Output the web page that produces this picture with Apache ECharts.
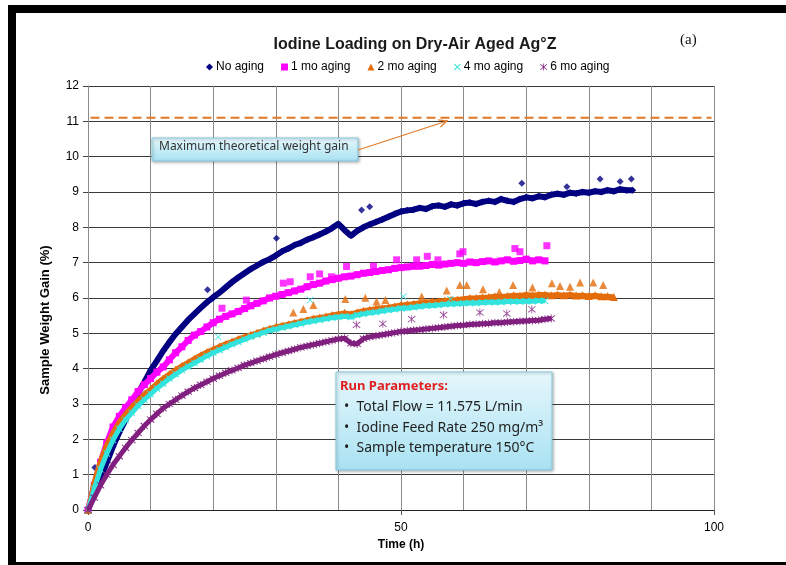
<!DOCTYPE html>
<html><head><meta charset="utf-8">
<script src="https://cdn.jsdelivr.net/npm/echarts@6/dist/echarts.min.js"></script>
<style>html,body{margin:0;padding:0;background:#fff;}#c{width:786px;height:565px;}</style>
</head><body><div id="c"></div>
<script>
// ---- Data (time in hours, weight gain in %) ----
const seriesNames = ['No aging', '1 mo aging', '2 mo aging', '4 mo aging', '6 mo aging'];
const xTickLabels = [0, 50, 100];
const yTickLabels = [0,1,2,3,4,5,6,7,8,9,10,11,12];
const maxTheoretical = 11.1;

const noAging = [0,0.45,0.9,1.35,1.8,2.2,2.55,2.95,3.3,3.62,3.95,4.22,4.5,4.75,4.98,5.18,5.38,5.55,5.72,5.88,6.02,6.15,6.3,6.45,6.58,6.7,6.82,6.92,7.02,7.1,7.2,7.32,7.4,7.5,7.56,7.65,7.72,7.8,7.88,7.98,8.1,7.92,7.76,7.9,8.0,8.08,8.15,8.22,8.3,8.38,8.45,8.48,8.5,8.55,8.52,8.6,8.62,8.58,8.65,8.62,8.68,8.7,8.66,8.72,8.75,8.72,8.8,8.75,8.72,8.8,8.85,8.82,8.88,8.85,8.92,8.95,8.92,8.98,8.96,9.0,8.98,9.02,9.0,9.05,9.02,9.08,9.05,9.05];
const noAgingOutliers = [[1.1,1.2],[19.1,6.23],[30.1,7.69],[43.7,8.49],[45,8.58],[69.3,9.25],[76.5,9.15],[81.8,9.37],[85,9.3],[86.8,9.37]];

const mo1 = [0,0.7,1.35,1.9,2.35,2.65,2.9,3.12,3.35,3.55,3.72,3.9,4.05,4.25,4.45,4.62,4.8,4.95,5.05,5.18,5.3,5.4,5.48,5.55,5.62,5.7,5.78,5.85,5.92,6.0,6.05,6.1,6.15,6.2,6.25,6.32,6.38,6.42,6.48,6.52,6.56,6.6,6.62,6.66,6.7,6.72,6.75,6.78,6.8,6.84,6.86,6.88,6.9,6.9,6.92,6.95,6.93,6.96,6.98,7.0,6.98,7.02,7.0,7.03,7.05,7.02,7.05,7.08,7.04,7.06,7.1,7.05,7.08,7.05];
const mo1Outliers = [[21.4,5.71],[25.3,5.94],[31.2,6.42],[32.3,6.46],[35.5,6.6],[37,6.68],[38.9,6.6],[41.3,6.89],[45.6,6.9],[49.3,7.08],[52.5,7.08],[54.2,7.18],[55.9,7.08],[59.4,7.25],[59.9,7.31],[68.2,7.4],[69,7.31],[73.3,7.48]];

const mo2 = [0,0.8,1.4,1.85,2.2,2.5,2.72,2.92,3.1,3.28,3.42,3.58,3.72,3.85,3.97,4.08,4.18,4.28,4.38,4.47,4.55,4.63,4.7,4.77,4.84,4.9,4.96,5.02,5.08,5.13,5.18,5.22,5.26,5.3,5.34,5.38,5.42,5.45,5.48,5.52,5.55,5.58,5.55,5.6,5.64,5.67,5.7,5.72,5.74,5.77,5.8,5.82,5.84,5.86,5.88,5.9,5.91,5.93,5.95,5.96,5.98,6.0,6.0,6.02,6.03,6.05,6.04,6.06,6.08,6.07,6.1,6.08,6.1,6.1,6.08,6.1,6.08,6.1,6.07,6.08,6.06,6.08,6.05,6.05,6.03];
const mo2Outliers = [[32.8,5.59],[34.4,5.69],[36,5.8],[41.1,5.97],[44.3,6.01],[46.1,5.9],[47.5,5.94],[53.3,6.04],[57.3,6.21],[59.4,6.37],[60.5,6.37],[63.1,6.25],[65.7,6.17],[67.9,6.37],[71,6.3],[74.1,6.42],[75.4,6.34],[77,6.32],[78.6,6.44],[80.7,6.44],[82.3,6.37]];

const mo4 = [0,0.6,1.15,1.6,1.98,2.3,2.55,2.75,2.95,3.12,3.28,3.44,3.58,3.72,3.84,3.96,4.06,4.16,4.26,4.36,4.45,4.53,4.61,4.69,4.76,4.83,4.9,4.96,5.02,5.08,5.12,5.16,5.2,5.24,5.28,5.32,5.35,5.38,5.41,5.44,5.46,5.48,5.46,5.52,5.55,5.58,5.6,5.63,5.66,5.68,5.71,5.72,5.74,5.76,5.78,5.79,5.8,5.82,5.83,5.84,5.85,5.86,5.86,5.87,5.88,5.88,5.89,5.9,5.9,5.9,5.91,5.91,5.92,5.92];
const mo4Outliers = [[20.8,4.9],[35.5,5.94],[50.4,6.04],[57.9,5.97]];

const mo6 = [0,0.35,0.7,1.0,1.28,1.52,1.76,1.98,2.18,2.38,2.56,2.72,2.88,3.0,3.12,3.24,3.35,3.45,3.54,3.63,3.72,3.8,3.88,3.95,4.02,4.1,4.16,4.22,4.28,4.34,4.4,4.45,4.5,4.55,4.6,4.64,4.68,4.72,4.76,4.8,4.84,4.86,4.72,4.7,4.85,4.9,4.93,4.96,4.99,5.02,5.05,5.07,5.09,5.1,5.12,5.14,5.16,5.18,5.2,5.22,5.23,5.25,5.26,5.27,5.28,5.3,5.3,5.32,5.33,5.34,5.35,5.36,5.37,5.4,5.42];
const mo6Outliers = [[42.9,5.24],[47.1,5.27],[51.7,5.4],[56.8,5.52],[62.6,5.59],[66.9,5.56],[70.9,5.68]];

// ---- build ----
function hourly(arr){ return arr.map((v,i)=>[i,v]); }
const colors = ['#000080','#FF00FF','#E46C0A','#33E3DD','#80207F'];
const crossPath = 'path://M0,1 L1,0 L5,4 L9,0 L10,1 L6,5 L10,9 L9,10 L5,6 L1,10 L0,9 L4,5 Z';
const starPath = 'path://M0,1.6 L0.8,0.8 L5,4.2 L9.2,0.8 L10,1.6 L5.8,5 L10,8.4 L9.2,9.2 L5,5.8 L0.8,9.2 L0,8.4 L4.2,5 Z M4.5,0 L5.5,0 L5.5,10 L4.5,10 Z';
const symbols = ['diamond','rect','triangle',crossPath,starPath];
const symSizes = [7,7,8,7,8];
const mains = [noAging, mo1, mo2, mo4, mo6];
const outs = [noAgingOutliers, mo1Outliers, mo2Outliers, mo4Outliers, mo6Outliers];
const lineW = [6,6,5,5,5];

const series = [];
seriesNames.forEach((n,i)=>{
  series.push({
    name: n, type: 'line', data: hourly(mains[i]),
    symbol: symbols[i], symbolSize: symSizes[i], showSymbol: true,
    itemStyle: {color: colors[i]},
    lineStyle: {color: colors[i], width: lineW[i]},
    smooth: false, z: 2+i, animation: false
  });
  series.push({
    name: n, type: 'scatter', data: outs[i],
    symbol: symbols[i], symbolSize: symSizes[i],
    itemStyle: {color: colors[i]}, z: 2+i, animation: false
  });
});
series.push({
  type: 'line', data: [[0.4,maxTheoretical],[99.6,maxTheoretical]],
  symbol: 'none', lineStyle: {color: '#E07A28', width: 2, type: [9,5]}, z: 10, animation: false, silent: true
});

const chart = echarts.init(document.getElementById('c'), null, {renderer: 'canvas'});
chart.setOption({
  backgroundColor: '#fff',
  animation: false,
  title: {
    text: 'Iodine Loading on Dry-Air Aged Ag°Z', left: 410, top: 32, textAlign: 'center',
    textStyle: {fontFamily: 'Liberation Sans, Arial', fontSize: 16, fontWeight: 'bold', color: '#1a1a1a'}
  },
  legend: {
    data: seriesNames.map((n,i)=>({name: n, icon: symbols[i]})),
    left: 201, top: 56, itemWidth: 7, itemHeight: 7, itemGap: 17,
    textStyle: {fontFamily: 'Liberation Sans, Arial', fontSize: 12, color: '#000', padding: [0,0,0,-2]}
  },
  grid: {left: 88, right: 72, top: 86, bottom: 55},
  xAxis: {
    type: 'value', min: 0, max: 100, interval: 50,
    name: 'Time (h)', nameLocation: 'middle', nameGap: 24,
    nameTextStyle: {fontFamily: 'Liberation Sans, Arial', fontSize: 12, fontWeight: 'bold', color: '#000'},
    axisLine: {show: true, onZero: false, lineStyle: {color: '#222', width: 1}},
    axisTick: {show: true, inside: false, length: 5, lineStyle: {color: '#555'}},
    axisLabel: {fontFamily: 'Liberation Sans, Arial', fontSize: 12, color: '#000', margin: 12,
      formatter: v => xTickLabels.indexOf(v) >= 0 ? String(v) : ''},
    splitLine: {show: true, lineStyle: {color: '#8a8a8a', width: 1}},
    minorTick: {show: false, splitNumber: 5},
    minorSplitLine: {show: true, lineStyle: {color: '#8a8a8a', width: 1}}
  },
  yAxis: {
    type: 'value', min: 0, max: 12, interval: 1,
    axisLine: {show: true, lineStyle: {color: '#8a8a8a', width: 1}},
    axisTick: {show: true, inside: false, length: 5, lineStyle: {color: '#444'}},
    axisLabel: {fontFamily: 'Liberation Sans, Arial', fontSize: 12, color: '#000', margin: 9,
      formatter: v => yTickLabels.indexOf(v) >= 0 ? String(v) : ''},
    splitLine: {show: true, lineStyle: {color: '#3a3a3a', width: 1}}
  },
  series: series,
  graphic: [
    // frame
    {type: 'rect', shape: {x: 8, y: 5, width: 778, height: 8}, style: {fill: '#000'}, z: 100},
    {type: 'rect', shape: {x: 8, y: 5, width: 8, height: 560}, style: {fill: '#000'}, z: 100},
    {type: 'rect', shape: {x: 8, y: 562, width: 778, height: 3}, style: {fill: '#000'}, z: 100},
    // y axis title
    {type: 'text', x: 45, y: 320, rotation: Math.PI/2, z: 100,
      style: {text: 'Sample Weight Gain (%)', font: 'bold 13px "Liberation Sans", Arial', fill: '#000', align: 'center', verticalAlign: 'middle'}},
    // (a)
    {type: 'text', left: 680, top: 33, style: {text: '(a)', font: '15px "Liberation Serif", serif', fill: '#111'}, z: 100},
    // max theoretical box
    {type: 'rect', shape: {x: 152, y: 138, width: 206, height: 23}, z: 50,
      style: {fill: new echarts.graphic.LinearGradient(0,0,0,1,[{offset:0,color:'#E6F7FC'},{offset:1,color:'#A9E2F2'}]),
        stroke: '#86CCE0', lineWidth: 1, shadowBlur: 3, shadowColor: 'rgba(0,0,0,0.3)', shadowOffsetX: 1, shadowOffsetY: 1}},
    {type: 'text', left: 159, top: 141, z: 51,
      style: {text: 'Maximum theoretical weight gain', font: '12px "Noto Sans", sans-serif', fill: '#333'}},
    {type: 'polyline', z: 51, shape: {points: [[358,150],[447,121]]}, style: {stroke: '#E07A28', lineWidth: 1.3, fill: null}},
    {type: 'polyline', z: 51, shape: {points: [[438.1,119.9],[447,121],[440.4,127.1]]}, style: {stroke: '#E07A28', lineWidth: 1.3, fill: null}},
    // run parameters box
    {type: 'rect', shape: {x: 336, y: 372, width: 216, height: 98}, z: 50,
      style: {fill: new echarts.graphic.LinearGradient(0,0,0,1,[{offset:0,color:'#E6F7FC'},{offset:1,color:'#A9E2F2'}]),
        stroke: '#86CCE0', lineWidth: 1, shadowBlur: 3, shadowColor: 'rgba(0,0,0,0.3)', shadowOffsetX: 1, shadowOffsetY: 1}},
    {type: 'text', left: 340, top: 380, z: 51,
      style: {text: 'Run Parameters:', font: 'bold 13px "Noto Sans", sans-serif', fill: '#E02020'}},
    {type: 'text', left: 344, top: 400, z: 51,
      style: {text: '•  Total Flow = 11.575 L/min', font: '14px "Noto Sans", sans-serif', fill: '#222'}},
    {type: 'text', left: 344, top: 421, z: 51,
      style: {text: '•  Iodine Feed Rate 250 mg/m³', font: '14px "Noto Sans", sans-serif', fill: '#222'}},
    {type: 'text', left: 344, top: 441, z: 51,
      style: {text: '•  Sample temperature 150°C', font: '14px "Noto Sans", sans-serif', fill: '#222'}}
  ]
});
</script></body></html>
